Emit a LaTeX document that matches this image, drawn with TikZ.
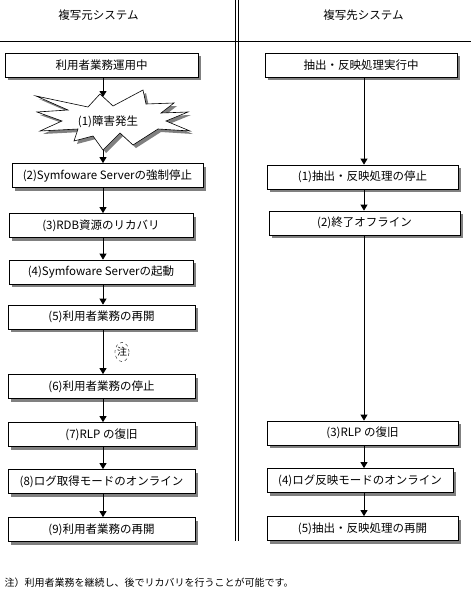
\documentclass[tikz,border=0pt]{standalone}
\usepackage{fontspec}
\setmainfont{Noto Sans CJK JP}
\usetikzlibrary{arrows.meta,shadows,shapes.geometric}

\begin{document}
\begin{tikzpicture}[x=1pt,y=-1pt]
\tikzset{
  box/.style={draw,fill=white,line width=0.8pt,minimum height=24pt,inner sep=0pt,
    font=\fontsize{11.5}{13}\selectfont,
    drop shadow={shadow xshift=3pt,shadow yshift=-3pt,fill=black!50,opacity=1}},
  arr/.style={-{Triangle[length=6pt,width=7pt]},line width=0.8pt},
  head/.style={font=\fontsize{11.5}{13}\selectfont},
  note/.style={ellipse,draw,dashed,inner sep=0pt,minimum width=12pt,minimum height=19pt,
    font=\fontsize{10}{10}\selectfont},
}
\useasboundingbox (0,0) rectangle (471,597);

% 区切り線
\draw[line width=0.8pt] (0,41) -- (471,41);
\draw[line width=0.8pt] (235,0) -- (235,541);
\draw[line width=0.8pt] (238,0) -- (238,541);

\node[head] (src) at (98.5,15) {複写元システム};
\node[head] (dst) at (363.5,15) {複写先システム};

\coordinate (lx) at (103,0);
\coordinate (rx) at (364,0);

% 複写元
\node[box,minimum width=193pt] (u0) at (101.5,65) {利用者業務運用中};
\filldraw[fill=white,line width=0.6pt,
  drop shadow={shadow xshift=3pt,shadow yshift=-3pt,fill=black!50,opacity=1}]
  (36,96) -- (88,107) -- (100,94) -- (113,106) -- (143,90) -- (146,104)
  -- (174,103) -- (161,113) -- (188,112) -- (166,121) -- (190,131) -- (158,129)
  -- (133,145) -- (120,133) -- (103,150) -- (93,136) -- (74,141) -- (78,129)
  -- (40,131) -- (62,121) -- (37,112) -- (68,110) -- cycle;
\node[head] (boom) at (108,122) {(1)障害発生};
\coordinate (boomtop) at (103,97);
\coordinate (boombot) at (103,150);
\node[box,minimum width=191pt] (u2) at (107.5,175.5) {(2)Symfoware Serverの強制停止};
\node[box,minimum width=184pt] (u3) at (101,225.5) {(3)RDB資源のリカバリ};
\node[box,minimum width=184pt] (u4) at (101,272) {(4)Symfoware Serverの起動};
\node[box,minimum width=187pt] (u5) at (101.5,317) {(5)利用者業務の再開};
\node[box,minimum width=187pt] (u6) at (101.5,386.5) {(6)利用者業務の停止};
\node[box,minimum width=187pt] (u7) at (101.5,434.5) {(7)RLP の復旧};
\node[box,minimum width=187pt] (u8) at (101.5,481.5) {(8)ログ取得モードのオンライン};
\node[box,minimum width=187pt] (u9) at (101.5,529.5) {(9)利用者業務の再開};
\node[note] (chu) at (122,352) {注};

\draw[arr] (u0.south -| lx) -- (boomtop);
\draw[arr] (boombot) -- (u2.north -| lx);
\draw[arr] (u2.south -| lx) -- (u3.north -| lx);
\draw[arr] (u3.south -| lx) -- (u4.north -| lx);
\draw[arr] (u4.south -| lx) -- (u5.north -| lx);
\draw[arr] (u5.south -| lx) -- (u6.north -| lx);
\draw[arr] (u6.south -| lx) -- (u7.north -| lx);
\draw[arr] (u7.south -| lx) -- (u8.north -| lx);
\draw[arr] (u8.south -| lx) -- (u9.north -| lx);

% 複写先
\node[box,minimum width=192pt] (r0) at (361,65) {抽出・反映処理実行中};
\node[box,minimum width=191pt] (r1) at (362.5,177) {(1)抽出・反映処理の停止};
\node[box,minimum width=191pt] (r2) at (364.5,223) {(2)終了オフライン};
\node[box,minimum width=191pt] (r3) at (362.5,433) {(3)RLP の復旧};
\node[box,minimum width=186pt] (r4) at (360,480.5) {(4)ログ反映モードのオンライン};
\node[box,minimum width=191pt] (r5) at (362.5,528.5) {(5)抽出・反映処理の再開};

\draw[arr] (r0.south -| rx) -- (r1.north -| rx);
\draw[arr] (r1.south -| rx) -- (r2.north -| rx);
\draw[arr] (r2.south -| rx) -- (r3.north -| rx);
\draw[arr] (r3.south -| rx) -- (r4.north -| rx);
\draw[arr] (r4.south -| rx) -- (r5.north -| rx);

\node[anchor=west,font=\fontsize{10}{12}\selectfont] (fn) at (1,583)
  {注）利用者業務を継続し、後でリカバリを行うことが可能です。};
\end{tikzpicture}
\end{document}
